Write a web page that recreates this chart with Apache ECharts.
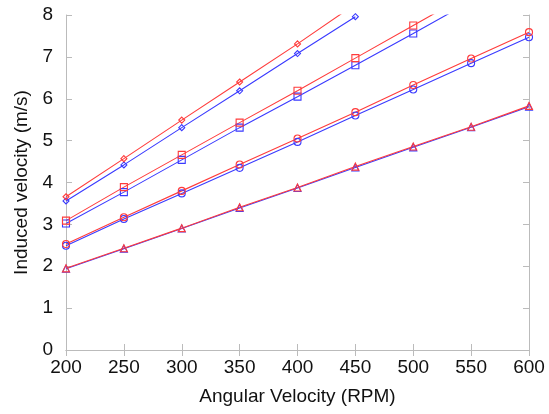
<!DOCTYPE html>
<html>
<head>
<meta charset="utf-8">
<script src="https://cdn.jsdelivr.net/npm/echarts@6/dist/echarts.min.js"></script>
<style>html,body{margin:0;padding:0;background:#fff}#c{width:549px;height:414px}</style>
</head>
<body>
<div id="c"></div>
<script>
const rpm = [200, 250, 300, 350, 400, 450, 500, 550, 600];
const diamondRed  = [3.66, 4.57, 5.49, 6.40, 7.31, 8.26, null, null, null];
const diamondBlue = [3.56, 4.42, 5.31, 6.19, 7.08, 7.96, null, null, null];
const squareRed   = [3.09, 3.89, 4.66, 5.43, 6.19, 6.97, 7.75, 8.53, null];
const squareBlue  = [3.02, 3.77, 4.54, 5.31, 6.05, 6.80, 7.56, 8.33, null];
const circleRed   = [2.53, 3.17, 3.80, 4.43, 5.05, 5.68, 6.33, 6.96, 7.59];
const circleBlue  = [2.49, 3.13, 3.74, 4.35, 4.97, 5.60, 6.22, 6.85, 7.47];
const triRed      = [1.95, 2.43, 2.91, 3.41, 3.88, 4.38, 4.86, 5.33, 5.83];
const triBlue     = [1.94, 2.42, 2.90, 3.39, 3.87, 4.36, 4.84, 5.32, 5.81];

const RED = '#ff3b3b', BLUE = '#3a3aff';
const FONT = 'Liberation Sans, Arial, sans-serif';

function mk(vals, color, symbol, size) {
  return {
    type: 'line',
    data: rpm.map((x, i) => [x, vals[i]]).filter(p => p[1] !== null),
    symbol: symbol,
    symbolSize: size,
    showAllSymbol: true,
    clip: true,
    lineStyle: { color: color, width: 1.1 },
    itemStyle: { color: 'rgba(255,255,255,0)', borderColor: color, borderWidth: 1.1 },
    emphasis: { disabled: true },
    animation: false
  };
}

const axisLine = { show: true, lineStyle: { color: '#bbbbbb', width: 1 } };
const tick = { show: true, inside: true, length: 6, lineStyle: { color: '#bbbbbb' } };
const chart = echarts.init(document.getElementById('c'));
chart.setOption({
  animation: false,
  grid: { left: 66, right: 20, top: 15, bottom: 64 },
  xAxis: [{
    type: 'value', min: 200, max: 600, interval: 50,
    axisLine: axisLine, axisTick: tick,
    splitLine: { show: false },
    axisLabel: { color: '#111', fontSize: 19, fontFamily: FONT, margin: 8 },
    name: 'Angular Velocity (RPM)', nameLocation: 'middle', nameGap: 37,
    nameTextStyle: { color: '#111', fontSize: 19, fontFamily: FONT }
  }, {
    type: 'value', min: 200, max: 600, interval: 50, position: 'top',
    axisLine: axisLine, axisTick: tick,
    axisLabel: { show: false }, splitLine: { show: false }
  }],
  yAxis: [{
    type: 'value', min: 0, max: 8, interval: 1,
    axisLine: axisLine, axisTick: tick,
    splitLine: { show: false },
    axisLabel: { color: '#111', fontSize: 19, fontFamily: FONT, margin: 13 },
    name: 'Induced velocity (m/s)', nameLocation: 'middle', nameGap: 34,
    nameTextStyle: { color: '#111', fontSize: 19, fontFamily: FONT }
  }, {
    type: 'value', min: 0, max: 8, interval: 1, position: 'right',
    axisLine: axisLine, axisTick: tick,
    axisLabel: { show: false }, splitLine: { show: false }
  }],
  series: [
    mk(diamondBlue, BLUE, 'diamond', 6),
    mk(diamondRed, RED, 'diamond', 6),
    mk(squareBlue, BLUE, 'rect', 7),
    mk(squareRed, RED, 'rect', 7),
    mk(circleBlue, BLUE, 'circle', 7),
    mk(circleRed, RED, 'circle', 7),
    mk(triBlue, BLUE, 'triangle', 7),
    mk(triRed, RED, 'triangle', 7)
  ]
});
</script>
</body>
</html>
